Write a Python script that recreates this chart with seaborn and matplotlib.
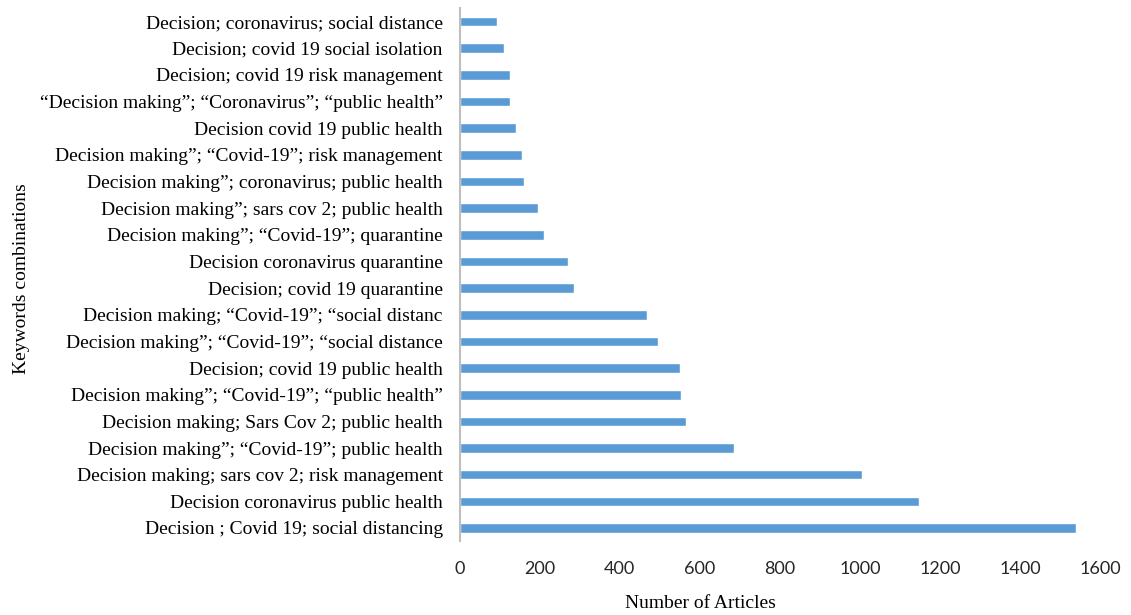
import matplotlib
matplotlib.use("Agg")
import matplotlib.pyplot as plt
import seaborn as sns
import pandas as pd

# Keyword combinations, listed top to bottom as they appear on the chart
keywords = [
    "Decision; coronavirus; social distance",
    "Decision; covid 19 social isolation",
    "Decision; covid 19 risk management",
    "\u201cDecision making\u201d; \u201cCoronavirus\u201d; \u201cpublic health\u201d",
    "Decision covid 19 public health",
    "Decision making\u201d; \u201cCovid-19\u201d; risk management",
    "Decision making\u201d; coronavirus; public health",
    "Decision making\u201d; sars cov 2; public health",
    "Decision making\u201d; \u201cCovid-19\u201d; quarantine",
    "Decision coronavirus quarantine",
    "Decision; covid 19 quarantine",
    "Decision making; \u201cCovid-19\u201d; \u201csocial distanc",
    "Decision making\u201d; \u201cCovid-19\u201d; \u201csocial distance",
    "Decision; covid 19 public health",
    "Decision making\u201d; \u201cCovid-19\u201d; \u201cpublic health\u201d",
    "Decision making; Sars Cov 2; public health",
    "Decision making\u201d; \u201cCovid-19\u201d; public health",
    "Decision making; sars cov 2; risk management",
    "Decision coronavirus public health",
    "Decision ; Covid 19; social distancing",
]
articles = [93, 112, 125, 126, 141, 155, 160, 197, 210, 270,
            286, 469, 497, 550, 553, 566, 685, 1006, 1148, 1541]
x_ticks = [0, 200, 400, 600, 800, 1000, 1200, 1400, 1600]

df = pd.DataFrame({"keywords": keywords, "articles": articles})

sns.set_theme(style="white")
plt.rcParams["font.family"] = ["Liberation Serif", "DejaVu Serif"]

fig = plt.figure(figsize=(11.31, 6.15), dpi=100)
ax = fig.add_axes([0.4063, 0.1198, 0.5663, 0.8669])

sns.barplot(data=df, x="articles", y="keywords", order=keywords,
            color="#5B9BD5", saturation=1, width=0.36, orient="h", ax=ax)

ax.set_xlim(0, 1600)
ax.set_xticks(x_ticks)
ax.set_xticklabels([str(t) for t in x_ticks], fontfamily="Lato", fontsize=13,
                   color="#262626")
ax.tick_params(axis="x", length=0, pad=14)
ax.tick_params(axis="y", length=0, pad=12, labelsize=14, labelcolor="black")
ax.set_xlabel("")
ax.set_ylabel("")

for side in ["top", "right", "bottom"]:
    ax.spines[side].set_visible(False)
ax.spines["left"].set_color("#BFBFBF")
ax.spines["left"].set_linewidth(1.5)

fig.text(700 / 1131, 1 - 603 / 615, "Number of Articles", ha="center",
         va="center", fontsize=14, color="black")
fig.text(22 / 1131, 1 - 279 / 615, "Keywords combinations", ha="center",
         va="center", rotation=90, fontsize=14, color="black")

fig.savefig("out.png", dpi=100, facecolor="white")
